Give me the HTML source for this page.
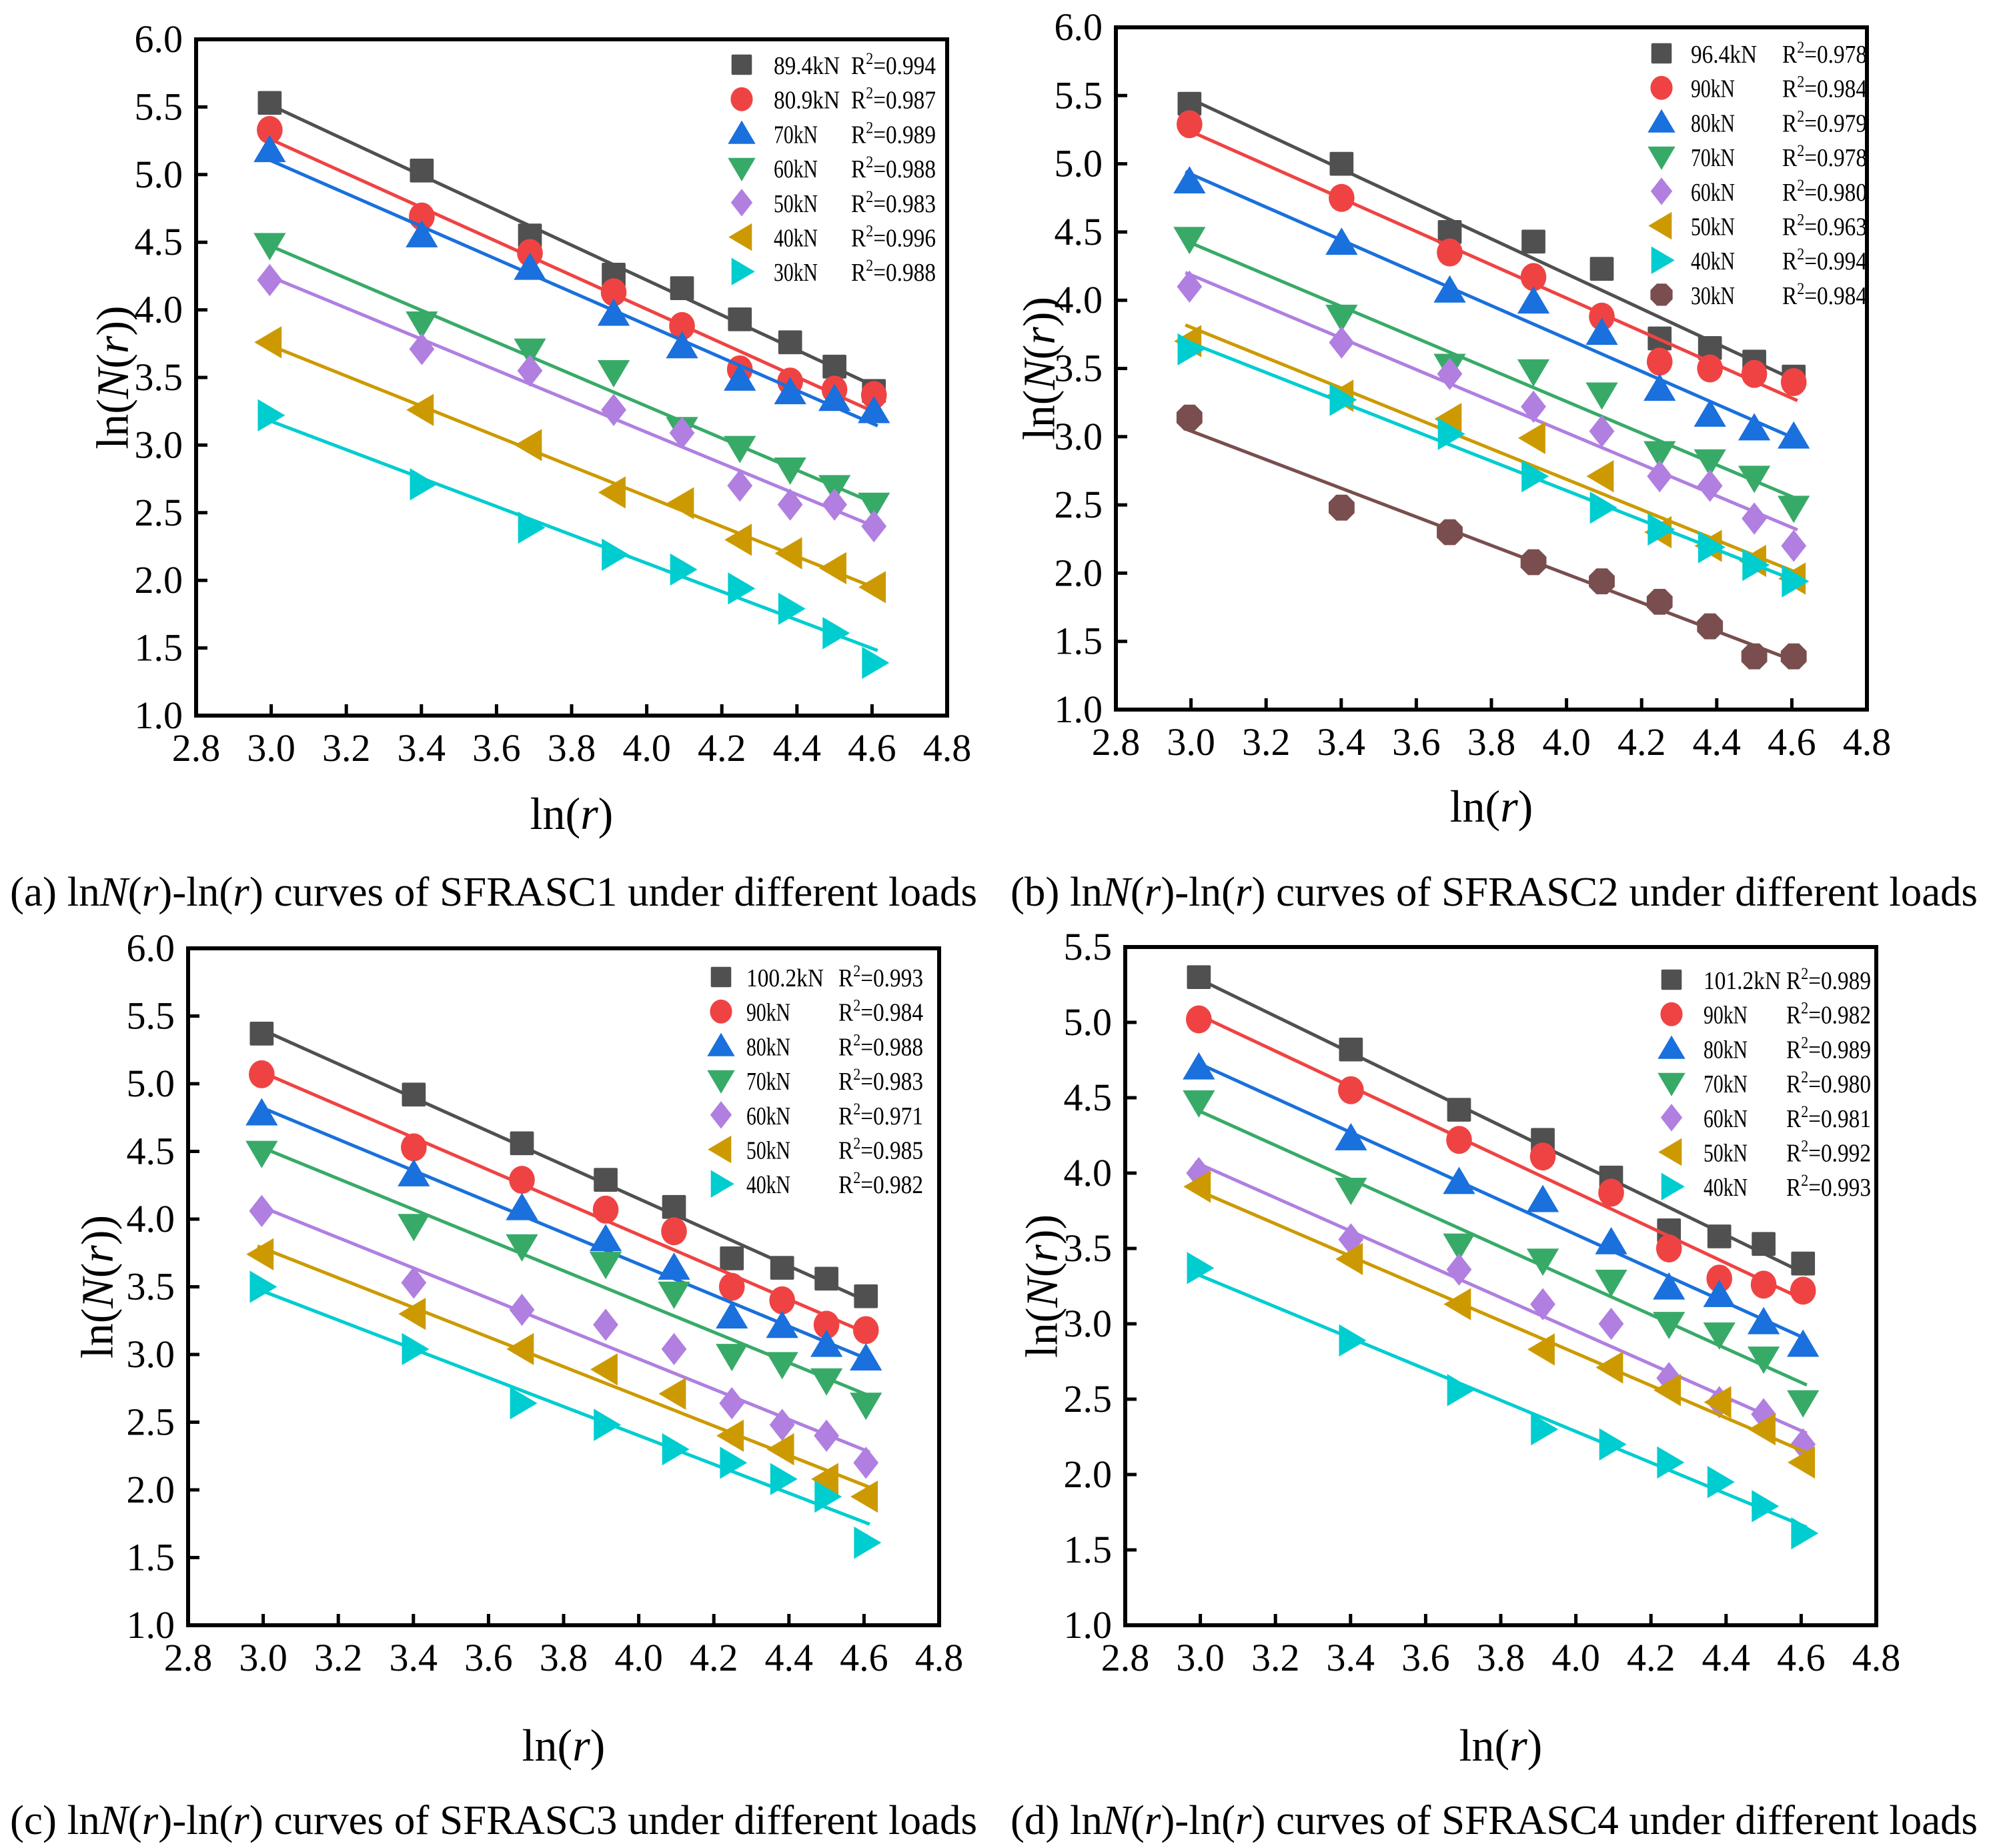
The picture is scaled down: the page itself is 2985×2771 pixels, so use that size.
<!DOCTYPE html>
<html><head><meta charset="utf-8"><style>
body{margin:0;background:#fff}
svg{display:block}
svg text{font-family:"Liberation Serif","Times New Roman",serif}
</style></head><body>
<svg id="fig" width="2985" height="2771" viewBox="0 0 2985 2771" xmlns="http://www.w3.org/2000/svg" font-family="Liberation Serif, serif"></svg>
<script>
const xVals=[2.996,3.401,3.689,3.912,4.094,4.248,4.382,4.500,4.605];
const aLabels=["89.4kN","80.9kN","70kN","60kN","50kN","40kN","30kN"];
const aR2=["0.994","0.987","0.989","0.988","0.983","0.996","0.988"];
const aS0=[5.53,5.03,4.55,4.26,4.16,3.93,3.76,3.58,3.40];
const aS1=[5.33,4.69,4.42,4.13,3.88,3.56,3.47,3.41,3.37];
const aS2=[5.18,4.55,4.31,3.97,3.73,3.49,3.39,3.34,3.25];
const aS3=[4.48,3.90,3.70,3.54,3.12,2.98,2.82,2.69,2.56];
const aS4=[4.22,3.71,3.55,3.26,3.09,2.70,2.56,2.56,2.40];
const aS5=[3.76,3.26,3.00,2.65,2.57,2.30,2.20,2.09,1.95];
const aS6=[3.22,2.71,2.39,2.19,2.08,1.94,1.79,1.61,1.39];
const bLabels=["96.4kN","90kN","80kN","70kN","60kN","50kN","40kN","30kN"];
const bR2=["0.978","0.984","0.979","0.978","0.980","0.963","0.994","0.984"];
const bS0=[5.44,5.00,4.50,4.43,4.23,3.72,3.65,3.55,3.44];
const bS1=[5.29,4.75,4.35,4.17,3.88,3.55,3.50,3.46,3.40];
const bS2=[4.87,4.42,4.07,3.99,3.76,3.35,3.16,3.06,3.00];
const bS3=[4.45,3.88,3.52,3.48,3.31,2.88,2.82,2.70,2.48];
const bS4=[4.10,3.69,3.46,3.22,3.04,2.71,2.64,2.40,2.20];
const bS5=[3.70,3.30,3.13,2.99,2.71,2.30,2.20,2.09,1.96];
const bS6=[3.64,3.27,3.02,2.71,2.48,2.32,2.19,2.06,1.94];
const bS7=[3.14,2.48,2.30,2.08,1.94,1.79,1.61,1.39,1.39];
const cLabels=["100.2kN","90kN","80kN","70kN","60kN","50kN","40kN"];
const cR2=["0.993","0.984","0.988","0.983","0.971","0.985","0.982"];
const cS0=[5.37,4.92,4.56,4.29,4.09,3.71,3.64,3.56,3.43];
const cS1=[5.07,4.53,4.29,4.07,3.91,3.50,3.40,3.22,3.18];
const cS2=[4.78,4.33,4.08,3.85,3.64,3.28,3.21,3.07,2.97];
const cS3=[4.49,3.95,3.80,3.67,3.45,2.99,2.93,2.81,2.63];
const cS4=[4.06,3.53,3.33,3.22,3.04,2.64,2.48,2.40,2.20];
const cS5=[3.74,3.30,3.04,2.89,2.71,2.40,2.30,2.08,1.95];
const cS6=[3.50,3.04,2.64,2.48,2.30,2.20,2.08,1.95,1.61];
const dLabels=["101.2kN","90kN","80kN","70kN","60kN","50kN","40kN"];
const dR2=["0.989","0.982","0.989","0.980","0.981","0.992","0.993"];
const dS0=[5.30,4.82,4.42,4.22,3.97,3.62,3.58,3.53,3.40];
const dS1=[5.02,4.55,4.22,4.11,3.87,3.50,3.30,3.26,3.22];
const dS2=[4.70,4.23,3.94,3.82,3.54,3.24,3.19,3.01,2.86];
const dS3=[4.47,3.89,3.52,3.42,3.28,3.00,2.93,2.77,2.48];
const dS4=[4.00,3.56,3.36,3.13,3.00,2.64,2.48,2.40,2.20];
const dS5=[3.91,3.43,3.13,2.83,2.71,2.56,2.48,2.30,2.08];
const dS6=[3.37,2.89,2.56,2.30,2.20,2.08,1.95,1.79,1.61];
const xTicks=["2.8","3.0","3.2","3.4","3.6","3.8","4.0","4.2","4.4","4.6","4.8"];
const yTicks6=["1.0","1.5","2.0","2.5","3.0","3.5","4.0","4.5","5.0","5.5","6.0"];
const yTicks55=["1.0","1.5","2.0","2.5","3.0","3.5","4.0","4.5","5.0","5.5"];

const COL=["#505050","#EF4343","#1A70DC","#38AA68","#B07FE0","#CC9A00","#00CDD0","#7A4E4E"];
const SHP=["sq","ci","up","dn","di","lt","rt","hx"];
const NS="http://www.w3.org/2000/svg";
const FF='"Liberation Serif", serif';
const svg=document.getElementById('fig');
function mk(tag,at,parent){const e=document.createElementNS(NS,tag);for(const k in at)e.setAttribute(k,at[k]);if(tag==='text')e.setAttribute('font-family',FF);(parent||svg).appendChild(e);return e;}

function marker(g,shape,cx,cy,s,col){
  let e;const h=s/2;
  if(shape==="sq")e=mk('rect',{x:cx-h*0.85,y:cy-h*0.85,width:s*0.85,height:s*0.85,rx:2,fill:col},g);
  else if(shape==="ci")e=mk('ellipse',{cx:cx,cy:cy,rx:h*0.92,ry:h,fill:col},g);
  else if(shape==="up")e=mk('polygon',{points:`${cx},${cy-h*1.1} ${cx+h*1.15},${cy+h*0.85} ${cx-h*1.15},${cy+h*0.85}`,fill:col},g);
  else if(shape==="dn")e=mk('polygon',{points:`${cx},${cy+h*1.1} ${cx+h*1.15},${cy-h*0.85} ${cx-h*1.15},${cy-h*0.85}`,fill:col},g);
  else if(shape==="di")e=mk('polygon',{points:`${cx},${cy-h*1.15} ${cx+h*0.9},${cy} ${cx},${cy+h*1.15} ${cx-h*0.9},${cy}`,fill:col},g);
  else if(shape==="lt")e=mk('polygon',{points:`${cx-h*1.1},${cy} ${cx+h*0.85},${cy-h*1.15} ${cx+h*0.85},${cy+h*1.15}`,fill:col},g);
  else if(shape==="rt")e=mk('polygon',{points:`${cx+h*1.1},${cy} ${cx-h*0.85},${cy-h*1.15} ${cx-h*0.85},${cy+h*1.15}`,fill:col},g);
  else {let p=[];for(let i=0;i<8;i++){const a=Math.PI/8+i*Math.PI/4;p.push((cx+h*Math.cos(a)).toFixed(1)+","+(cy+h*Math.sin(a)).toFixed(1));}e=mk('polygon',{points:p.join(' '),fill:col},g);}
  return e;
}

function panel(id,box,ymax,yTicks,labels,r2,series,leg,titles,caption){
  const g=mk('g',{});
  
  
  const [L,T,R,B]=box;
  const X=v=>L+(v-2.8)/2.0*(R-L);
  const Y=v=>B-(v-1.0)/(ymax-1.0)*(B-T);
  xTicks.forEach((t,i)=>{const v=2.8+0.2*i;const x=X(v);
    if(i>0&&i<xTicks.length-1){const tk=mk('line',{x1:x,y1:B,x2:x,y2:B-17,stroke:'#000','stroke-width':5},g);
      }
    const tx=mk('text',{x:x,y:B+68,'font-size':58,'text-anchor':'middle'},g);tx.textContent=t;
    });
  yTicks.forEach((t,i)=>{const v=1.0+0.5*i;const y=Y(v);
    if(i>0&&i<yTicks.length-1){const tk=mk('line',{x1:L,y1:y,x2:L+17,y2:y,stroke:'#000','stroke-width':5},g);
      }
    const tx=mk('text',{x:L-20,y:y+19,'font-size':58,'text-anchor':'end'},g);tx.textContent=t;
    });
  series.forEach((ys,si)=>{
    const n=xVals.length;let sx=0,sy=0,sxx=0,sxy=0;
    for(let i=0;i<n;i++){sx+=xVals[i];sy+=ys[i];sxx+=xVals[i]*xVals[i];sxy+=xVals[i]*ys[i];}
    const k=(n*sxy-sx*sy)/(n*sxx-sx*sx),b=(sy-k*sx)/n;
    const ln=mk('line',{x1:X(2.985),y1:Y(k*2.985+b),x2:X(4.615),y2:Y(k*4.615+b),stroke:COL[si],'stroke-width':5},g);
    
    ys.forEach((v,i)=>{const m=marker(g,SHP[si],X(xVals[i]),Y(v),42,COL[si]);
      });
  });
  const fr=mk('rect',{x:L,y:T,width:R-L,height:B-T,fill:'none',stroke:'#000','stroke-width':6},g);
  
  const [mx,tx1,tx2,ly]=leg;
  labels.forEach((lab,i)=>{const y=ly+i*51.7;
    const m=marker(g,SHP[i],mx,y,36,COL[i]);
    
    const t=mk('text',{x:tx1,y:y+14,'font-size':38,textLength:(16.5*lab.length).toFixed(0),lengthAdjust:'spacingAndGlyphs'},g);t.textContent=lab;
    
    const r=mk('text',{x:tx2,y:y+14,'font-size':38,textLength:127,lengthAdjust:'spacingAndGlyphs'},g);
    
    r.innerHTML='R<tspan dy="-15" font-size="25">2</tspan><tspan dy="15">='+r2[i]+'</tspan>';});
  const [ytx,xty]=titles;
  const yt=mk('text',{x:ytx,y:(T+B)/2,'font-size':68,'text-anchor':'middle',transform:`rotate(-90 ${ytx} ${(T+B)/2})`,'dominant-baseline':'middle'},g);
  yt.innerHTML='ln(<tspan font-style="italic">N</tspan>(<tspan font-style="italic">r</tspan>))';
  
  const xt=mk('text',{x:(L+R)/2,y:xty,'font-size':68,'text-anchor':'middle'},g);
  xt.innerHTML='ln(<tspan font-style="italic">r</tspan>)';
  
  const [cx,cy,cl,num]=caption;
  const cp=mk('text',{x:cx,y:cy,'font-size':62,textLength:cl,lengthAdjust:'spacingAndGlyphs'},g);
  cp.innerHTML='('+id+') ln<tspan font-style="italic">N</tspan>(<tspan font-style="italic">r</tspan>)-ln(<tspan font-style="italic">r</tspan>) curves of SFRASC'+num+' under different loads';
  
}

panel('a',[294,59,1420,1073],6.0,yTicks6,aLabels,aR2,[aS0,aS1,aS2,aS3,aS4,aS5,aS6],[1112,1160,1276,97],[176,1243],[15,1358,1450,'1']);
panel('b',[1673,41,2799,1064],6.0,yTicks6,bLabels,bR2,[bS0,bS1,bS2,bS3,bS4,bS5,bS6,bS7],[2491,2535,2672,80],[1565,1232],[1515,1358,1450,'2']);
panel('c',[282,1422,1408,2437],6.0,yTicks6,cLabels,cR2,[cS0,cS1,cS2,cS3,cS4,cS5,cS6],[1081,1119,1257,1465],[153,2640],[15,2750,1450,'3']);
panel('d',[1687,1420,2813,2437],5.5,yTicks55,dLabels,dR2,[dS0,dS1,dS2,dS3,dS4,dS5,dS6],[2506,2554,2678,1469],[1569,2640],[1515,2750,1450,'4']);
</script>
</body></html>
